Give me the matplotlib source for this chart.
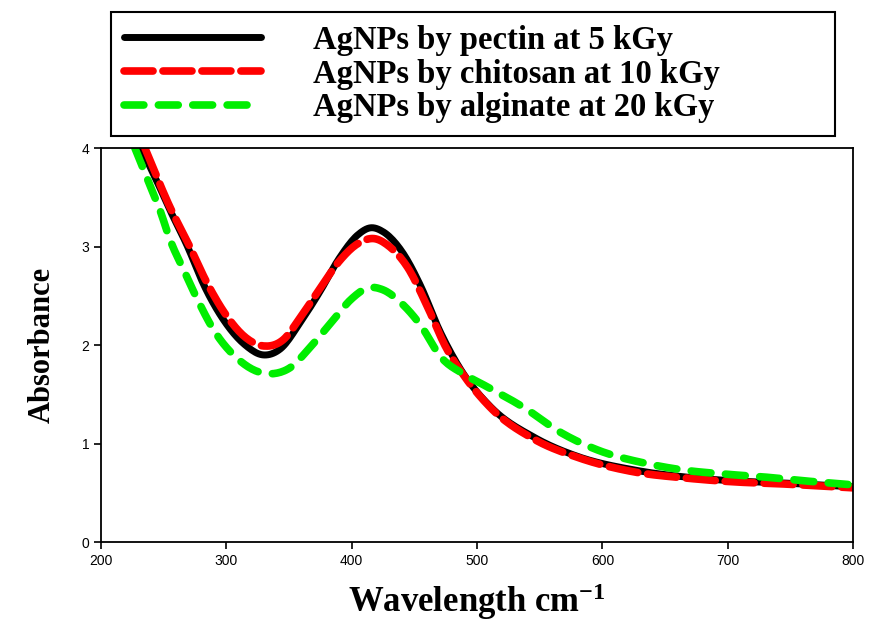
import numpy as np
import matplotlib.pyplot as plt

plt.rcParams['mathtext.fontset'] = 'custom'
plt.rcParams['mathtext.rm'] = 'Liberation Serif:bold'
plt.rcParams['mathtext.it'] = 'Liberation Serif:bold'
plt.rcParams['mathtext.bf'] = 'Liberation Serif:bold'

# absorbance spectra
wl_pectin = [232, 245, 255, 269, 282, 298, 315, 329, 343, 360, 375, 390, 405, 415,
             425, 440, 455, 470, 487, 511, 546, 580, 626, 666, 706, 743, 800]
abs_pectin = [4.0, 3.65, 3.37, 3.0, 2.61, 2.25, 2.0, 1.90, 1.96, 2.25, 2.55, 2.88, 3.12, 3.19,
              3.15, 2.95, 2.6, 2.15, 1.75, 1.37, 1.06, 0.87, 0.73, 0.66, 0.62, 0.60, 0.56]

wl_chitosan = [235, 255, 270, 285, 300, 315, 330, 345, 360, 375, 390, 405, 418,
               430, 445, 460, 475, 490, 511, 546, 580, 626, 666, 706, 743, 800]
abs_chitosan = [4.0, 3.4, 3.02, 2.62, 2.3, 2.08, 1.99, 2.05, 2.3, 2.58, 2.85, 3.03, 3.08,
                3.0, 2.78, 2.4, 1.98, 1.68, 1.36, 1.04, 0.86, 0.71, 0.65, 0.61, 0.59, 0.55]

wl_alginate = [227, 239, 247, 255, 266, 277, 290, 309, 325, 338, 352, 365, 385, 400, 413,
               425, 440, 455, 471, 490, 506, 538, 567, 597, 634, 665, 697, 729, 762, 800]
abs_alginate = [4.0, 3.62, 3.37, 3.07, 2.76, 2.46, 2.15, 1.86, 1.73, 1.71, 1.78, 1.95, 2.25, 2.47, 2.58,
                2.56, 2.42, 2.2, 1.88, 1.7, 1.59, 1.36, 1.11, 0.93, 0.80, 0.73, 0.69, 0.66, 0.62, 0.58]

labels = ['AgNPs by pectin at 5 kGy', 'AgNPs by chitosan at 10 kGy', 'AgNPs by alginate at 20 kGy']


def smooth(x, y, n=400):
    # cubic hermite through the read points
    x = np.asarray(x, float)
    y = np.asarray(y, float)
    xs = np.linspace(x[0], x[-1], n)
    h = np.diff(x)
    d = np.diff(y) / h
    m = np.zeros_like(y)
    m[1:-1] = (d[:-1] * h[1:] + d[1:] * h[:-1]) / (h[:-1] + h[1:])
    m[0], m[-1] = d[0], d[-1]
    idx = np.clip(np.searchsorted(x, xs) - 1, 0, len(x) - 2)
    t = (xs - x[idx]) / h[idx]
    h00 = 2 * t**3 - 3 * t**2 + 1
    h10 = t**3 - 2 * t**2 + t
    h01 = -2 * t**3 + 3 * t**2
    h11 = t**3 - t**2
    ys = h00 * y[idx] + h10 * h[idx] * m[idx] + h01 * y[idx + 1] + h11 * h[idx] * m[idx + 1]
    return xs, ys


fig = plt.figure(figsize=(8.74, 6.24), dpi=100)
ax = fig.add_axes([0.1156, 0.1314, 0.8605, 0.6314])

x1, y1 = smooth(wl_pectin, abs_pectin)
x2, y2 = smooth(wl_chitosan, abs_chitosan)
x3, y3 = smooth(wl_alginate, abs_alginate)

l1, = ax.plot(x1, y1, color='black', lw=5.0, solid_capstyle='round')
l2, = ax.plot(x2, y2, color='#ff0000', lw=5.5, dashes=(3.8, 1.3), dash_capstyle='round')
l3, = ax.plot(x3, y3, color='#00ee00', lw=5.5, dashes=(2.6, 1.9), dash_capstyle='round')

ax.set_xlim(200, 800)
ax.set_ylim(0, 4)
ax.set_xticks(range(200, 801, 100))
ax.set_yticks(range(0, 5))
ax.tick_params(direction='out', length=5, width=1.2, labelsize=10)
for lab in ax.get_xticklabels() + ax.get_yticklabels():
    lab.set_family('Liberation Sans')
for s in ax.spines.values():
    s.set_linewidth(1.3)

ax.set_xlabel('Wavelength cm$^{-1}$', family='Liberation Serif', fontweight='bold',
              fontsize=25, labelpad=10)
ax.set_ylabel('Absorbance', family='Liberation Serif', fontweight='bold', fontsize=22, labelpad=18)

leg = fig.legend([l1, l2, l3], labels, loc='upper left', bbox_to_anchor=(0.127, 0.981, 0.828, 0.0),
                 mode='expand', prop={'family': 'Liberation Serif', 'weight': 'bold', 'size': 23.5},
                 handlelength=4.2, handletextpad=1.6, labelspacing=0.08, borderpad=0.4,
                 borderaxespad=0.0, fancybox=False, edgecolor='black', framealpha=1)
leg.get_frame().set_linewidth(1.5)

plt.savefig('out.png', dpi=100)
